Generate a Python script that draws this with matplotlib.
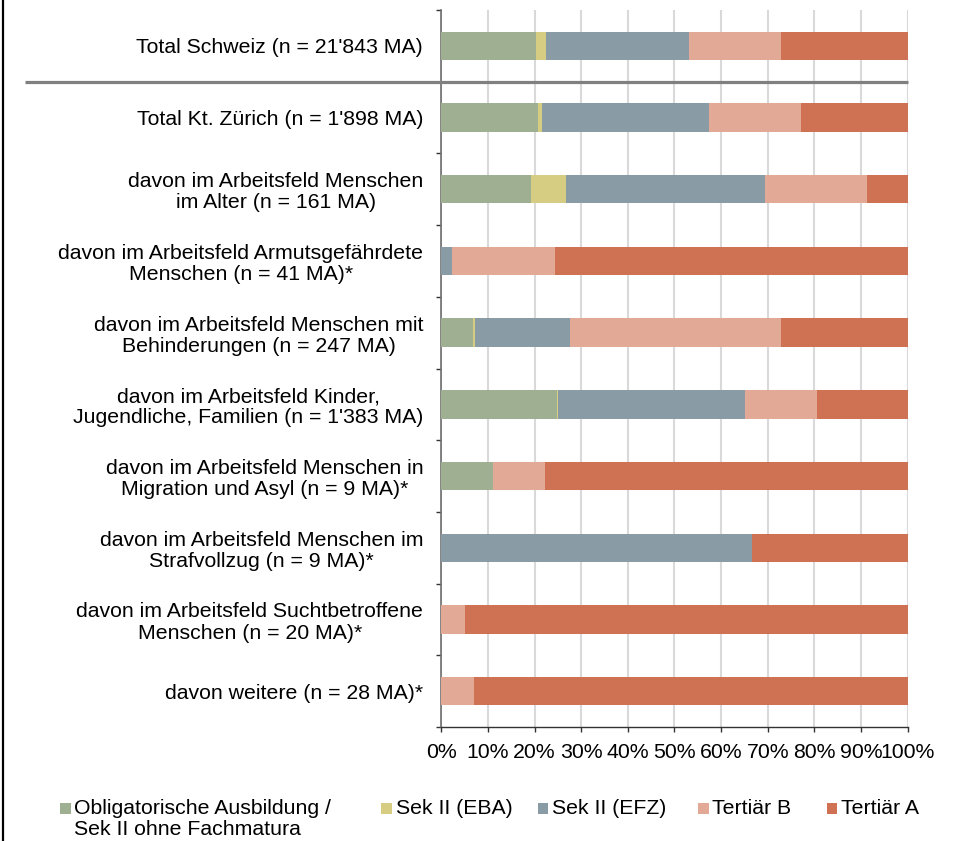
import matplotlib
matplotlib.use("Agg")
import matplotlib.pyplot as plt
from matplotlib.lines import Line2D
from matplotlib.patches import Rectangle
import matplotlib.transforms as mtransforms

plt.rcParams["font.family"] = ["Liberation Sans", "DejaVu Sans"]

categories = [
    "Total Schweiz (n = 21'843 MA)",
    "Total Kt. Zürich (n = 1'898 MA)",
    "davon im Arbeitsfeld Menschen\nim Alter (n = 161 MA)",
    "davon im Arbeitsfeld Armutsgefährdete\nMenschen (n = 41 MA)*",
    "davon im Arbeitsfeld Menschen mit\nBehinderungen (n = 247 MA)",
    "davon im Arbeitsfeld Kinder,\nJugendliche, Familien (n = 1'383 MA)",
    "davon im Arbeitsfeld Menschen in\nMigration und Asyl (n = 9 MA)*",
    "davon im Arbeitsfeld Menschen im\nStrafvollzug (n = 9 MA)*",
    "davon im Arbeitsfeld Suchtbetroffene\nMenschen (n = 20 MA)*",
    "davon weitere (n = 28 MA)*",
]

# shares in percent, one list per education level
obligatorisch = [20.3, 20.7, 19.2, 0.0, 6.9, 24.9, 11.1, 0.0, 0.0, 0.0]
sek2_eba = [2.1, 0.8, 7.5, 0.0, 0.4, 0.1, 0.0, 0.0, 0.0, 0.0]
sek2_efz = [30.7, 35.8, 42.8, 2.4, 20.2, 40.1, 0.0, 66.7, 0.0, 0.0]
tertiaer_b = [19.7, 19.8, 21.7, 22.0, 45.3, 15.5, 11.1, 0.0, 5.0, 7.1]
tertiaer_a = [27.2, 22.9, 8.8, 75.6, 27.2, 19.4, 77.8, 33.3, 95.0, 92.9]

series = [obligatorisch, sek2_eba, sek2_efz, tertiaer_b, tertiaer_a]
labels = ["Obligatorische Ausbildung /\nSek II ohne Fachmatura", "Sek II (EBA)",
          "Sek II (EFZ)", "Tertiär B", "Tertiär A"]
colors = ["#9EB091", "#D6CD83", "#899CA6", "#E2A997", "#CF7153"]

xticks = [0, 10, 20, 30, 40, 50, 60, 70, 80, 90, 100]

FS = 15.3
W, H = 978, 841
fig = plt.figure(figsize=(W / 100, H / 100), dpi=100)
ax = fig.add_axes([441.3 / W, 1 - 727 / H, 466.4 / W, 717 / H])

ypos = list(range(len(categories)))
left = [0.0] * len(categories)
for vals, col in zip(series, colors):
    ax.barh(ypos, vals, left=left, height=0.395, color=col, linewidth=0, zorder=3)
    left = [a + b for a, b in zip(left, vals)]

ax.set_xlim(0, 100)
ax.set_ylim(len(categories) - 0.5, -0.5)

ax.set_xticks(xticks)
ax.set_xticklabels([f"{t}%" for t in xticks])
ax.tick_params(axis="x", length=5 * 0.72, width=1, color="#333333", pad=8,
               labelsize=FS, labelcolor="black")
ax.grid(axis="x", color="#D9D9D9", linewidth=1.5, zorder=0)

# y axis: tick marks between categories, labels centred on the bars
ax.set_yticks([i - 0.5 for i in range(len(categories) + 1)])
ax.set_yticklabels([])
ax.set_yticks(ypos, minor=True)
ax.set_yticklabels(categories, minor=True, multialignment="center",
                   linespacing=1.14)
ax.tick_params(axis="y", which="major", length=5 * 0.72, width=1, color="#333333")
ax.tick_params(axis="y", which="minor", length=0, pad=13, labelsize=FS)

for s in ["top", "right"]:
    ax.spines[s].set_visible(False)
ax.spines["left"].set_color("#6E6E6E")
ax.spines["left"].set_linewidth(1.2)
ax.spines["bottom"].set_color("#333333")
ax.spines["bottom"].set_linewidth(1)

# separator below "Total Schweiz"
trans = mtransforms.blended_transform_factory(ax.transAxes, ax.transData)
ax.plot([(25 - 441.3) / 466.4, 1.0], [0.5, 0.5], transform=trans, color="#808080",
        linewidth=2.3, clip_on=False, zorder=5, solid_capstyle="butt")

# left frame line
fig.add_artist(Line2D([3.5 / W, 3.5 / W], [0, 1], color="black", linewidth=1.6))

# legend
leg_x = [60, 381.5, 537.7, 698, 826.7]
sq = 10.7
for lx, lab, col in zip(leg_x, labels, colors):
    fig.add_artist(Rectangle((lx / W, 1 - 814 / H), sq / W, sq / H,
                             facecolor=col, edgecolor="none"))
    fig.text((lx + sq + 3.8) / W, 1 - 799.5 / H, lab, fontsize=FS,
             ha="left", va="top", linespacing=1.12)

fig.savefig("out.png", dpi=100)
